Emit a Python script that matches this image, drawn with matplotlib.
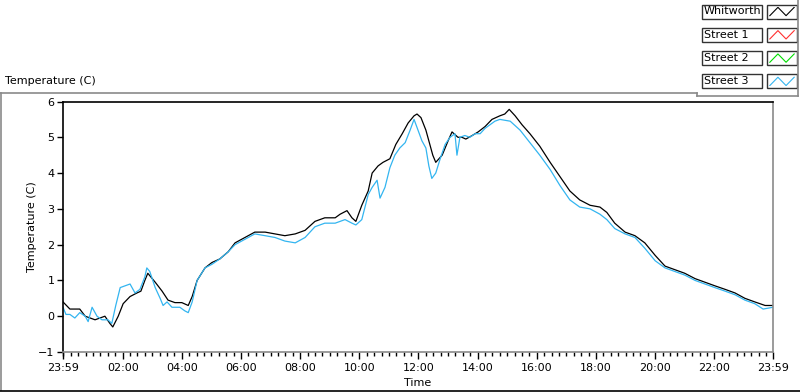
import numpy as np
import matplotlib
matplotlib.use('Agg')
import matplotlib.pyplot as plt
from matplotlib.lines import Line2D
from matplotlib.patches import Rectangle
from matplotlib.ticker import FixedLocator

# minutes since 23:59 of the previous day
whitworth_t = [0, 14, 34, 45, 65, 75, 85, 95, 101, 112, 122, 136, 150, 158, 166, 172, 187, 201, 213, 227,
               241, 254, 262, 272, 288, 302, 318, 335, 349, 369, 389, 410, 430, 450, 471, 491, 511, 531,
               552, 562, 576, 586, 594, 606, 619, 627, 639, 649, 663, 675, 688, 700, 712, 718, 726, 736,
               744, 750, 756, 769, 781, 789, 801, 809, 817, 830, 842, 856, 870, 886, 896, 905, 917, 931,
               947, 967, 988, 1008, 1028, 1048, 1069, 1089, 1103, 1119, 1140, 1160, 1180, 1201, 1221,
               1241, 1261, 1282, 1302, 1322, 1343, 1363, 1383, 1403, 1424, 1440]
whitworth_v = [0.4, 0.2, 0.2, 0.0, -0.1, -0.05, 0.0, -0.2, -0.3, 0.0, 0.35, 0.55, 0.65, 0.7, 1.0, 1.2, 0.95,
               0.7, 0.45, 0.38, 0.38, 0.3, 0.55, 1.0, 1.35, 1.5, 1.6, 1.8, 2.05, 2.2, 2.35, 2.35, 2.3,
               2.25, 2.3, 2.4, 2.65, 2.75, 2.75, 2.85, 2.95, 2.75, 2.65, 3.1, 3.5, 4.0, 4.2, 4.3, 4.4,
               4.8, 5.1, 5.4, 5.6, 5.65, 5.55, 5.2, 4.8, 4.5, 4.3, 4.5, 4.9, 5.15, 5.0, 5.0, 4.95, 5.05,
               5.15, 5.3, 5.5, 5.6, 5.65, 5.78, 5.6, 5.35, 5.1, 4.75, 4.3, 3.9, 3.5, 3.25, 3.1, 3.05,
               2.9, 2.6, 2.35, 2.25, 2.05, 1.7, 1.4, 1.3, 1.2, 1.05, 0.95, 0.85, 0.75, 0.65, 0.5, 0.4,
               0.3, 0.3]

street1_t, street1_v = [], []
street2_t, street2_v = [], []

street3_t = [0, 6, 14, 24, 34, 45, 51, 59, 69, 79, 91, 99, 107, 116, 126, 136, 146, 156, 166, 170, 176,
             187, 197, 203, 211, 221, 237, 247, 254, 262, 272, 288, 302, 318, 335, 349, 369, 389, 410,
             430, 450, 471, 491, 511, 531, 552, 572, 586, 594, 606, 619, 627, 637, 643, 653, 663, 673,
             683, 694, 704, 712, 720, 728, 736, 742, 748, 756, 765, 775, 785, 795, 799, 805, 815, 825,
             836, 846, 856, 866, 876, 886, 907, 927, 947, 967, 988, 1008, 1028, 1048, 1069, 1089, 1103,
             1119, 1140, 1160, 1180, 1201, 1221, 1241, 1261, 1282, 1302, 1322, 1343, 1363, 1383, 1403,
             1420, 1440]
street3_v = [0.25, 0.05, 0.05, -0.05, 0.1, 0.0, -0.15, 0.25, 0.0, -0.1, -0.1, -0.2, 0.3, 0.8, 0.85, 0.9,
             0.65, 0.75, 1.1, 1.35, 1.25, 0.8, 0.5, 0.3, 0.4, 0.25, 0.25, 0.15, 0.1, 0.4, 1.0, 1.35, 1.45,
             1.6, 1.8, 2.0, 2.15, 2.3, 2.25, 2.2, 2.1, 2.05, 2.2, 2.5, 2.6, 2.6, 2.7, 2.6, 2.55, 2.7, 3.4,
             3.6, 3.8, 3.3, 3.6, 4.15, 4.5, 4.7, 4.85, 5.2, 5.5, 5.2, 4.9, 4.7, 4.2, 3.85, 4.0, 4.4, 4.8,
             5.0, 5.1, 4.5, 5.0, 5.05, 5.0, 5.1, 5.1, 5.25, 5.35, 5.45, 5.5, 5.45, 5.2, 4.85, 4.5, 4.1,
             3.65, 3.25, 3.05, 3.0, 2.85, 2.7, 2.45, 2.3, 2.2, 1.9, 1.55, 1.35, 1.25, 1.15, 1.0, 0.9,
             0.8, 0.7, 0.6, 0.45, 0.35, 0.2, 0.25]

series_names = ['Whitworth', 'Street 1', 'Street 2', 'Street 3']
series_colors = ['black', '#ff3030', '#00dd00', '#33b5f0']

tick_minutes = [0, 121, 241, 361, 481, 601, 721, 841, 961, 1081, 1201, 1321, 1440]
tick_labels = ['23:59', '02:00', '04:00', '06:00', '08:00', '10:00', '12:00', '14:00',
               '16:00', '18:00', '20:00', '22:00', '23:59']

plt.rcParams['font.family'] = 'DejaVu Sans'
plt.rcParams['font.size'] = 8

W, H = 800, 392
fig = plt.figure(figsize=(W / 100, H / 100), dpi=100)


def fx(x):
    return x / W


def fy(y):
    return 1 - y / H


def hline(x0, x1, y, color):
    fig.add_artist(Line2D([fx(x0), fx(x1)], [fy(y), fy(y)], color=color, lw=1.2))


def vline(x, y0, y1, color):
    fig.add_artist(Line2D([fx(x), fx(x)], [fy(y0), fy(y1)], color=color, lw=1.2))


# panel frame
hline(0, 697, 92.5, '#8a8a8a')
vline(1, 92.5, 390, '#8a8a8a')
hline(0, 800, 390.5, 'black')
vline(697, 92.5, 96, '#8a8a8a')
hline(697, 798, 96, '#8a8a8a')
vline(798, 0, 96, '#8a8a8a')

fig.text(fx(5), fy(81), 'Temperature (C)', fontsize=8, va='center', ha='left')

ax = fig.add_axes([fx(63), fy(352), fx(710), (352 - 101.5) / H])
series = [(whitworth_t, whitworth_v), (street1_t, street1_v), (street2_t, street2_v), (street3_t, street3_v)]
for (t, v), name, c in zip(series, series_names, series_colors):
    ax.plot(t, v, color=c, lw=0.9, label=name)

ax.set_xlim(0, 1440)
ax.set_ylim(-1, 6)
ax.set_yticks(range(-1, 7))
ax.xaxis.set_major_locator(FixedLocator(tick_minutes))
ax.set_xticklabels(tick_labels)
ax.xaxis.set_minor_locator(FixedLocator(np.arange(1, 1440, 15)))
ax.tick_params(axis='x', which='major', length=5, width=1, pad=3)
ax.tick_params(axis='x', which='minor', length=3, width=1)
ax.tick_params(axis='y', length=4, width=1, pad=2)
ax.spines['left'].set_color('black')
ax.spines['top'].set_color('black')
ax.spines['right'].set_color('#8a8a8a')
ax.spines['bottom'].set_color('#8a8a8a')
for s in ax.spines.values():
    s.set_linewidth(1.2)
ax.set_xlabel('Time', fontsize=8)
ax.set_ylabel('Temperature (C)', fontsize=8)
ax.xaxis.set_label_coords(0.5, -0.104)
ax.yaxis.set_label_coords(-0.037, 0.5)

# legend panel
for i, (name, c) in enumerate(zip(series_names, series_colors)):
    top = 4.5 + i * 23.3
    fig.add_artist(Rectangle((fx(702), fy(top + 14)), fx(60), 14 / H, facecolor='white',
                             edgecolor='#333333', lw=1, zorder=-1))
    fig.text(fx(704), fy(top + 7), name, fontsize=8, va='center', ha='left')
    fig.add_artist(Rectangle((fx(767), fy(top + 14)), fx(30), 14 / H, facecolor='white',
                             edgecolor='#333333', lw=1, zorder=-1))
    icon = fig.add_axes([fx(769), fy(top + 12), fx(26), 10 / H])
    icon.set_zorder(2)
    icon.patch.set_visible(False)
    icon.plot([0, 1, 2, 3], [0, 1, 0, 1], color=c, lw=0.8)
    icon.set_xlim(-0.1, 3.1)
    icon.set_ylim(-0.1, 1.1)
    icon.axis('off')

fig.savefig('out.png', dpi=100)
